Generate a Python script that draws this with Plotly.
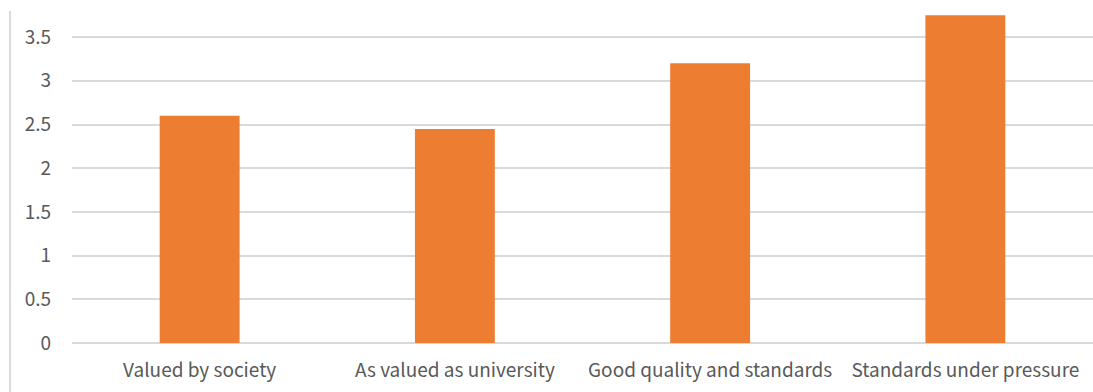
import plotly.graph_objects as go

categories = ["Valued by society", "As valued as university",
              "Good quality and standards", "Standards under pressure"]
values = [2.6, 2.45, 3.2, 3.75]
y_ticks = [0, 0.5, 1, 1.5, 2, 2.5, 3, 3.5]
y_tick_labels = ["0", "0.5", "1", "1.5", "2", "2.5", "3", "3.5"]

fig = go.Figure(
    go.Bar(
        x=categories,
        y=values,
        marker=dict(color="#ED7D31", line=dict(width=0)),
        width=0.313,
    )
)

font_family = "Noto Sans CJK KR, Noto Sans, sans-serif"

fig.update_layout(
    width=1093,
    height=392,
    margin=dict(l=72, r=0, t=0, b=49),
    paper_bgcolor="white",
    plot_bgcolor="white",
    showlegend=False,
    font=dict(family=font_family, size=19, color="#595959"),
    xaxis=dict(
        range=[-0.5, 3.5],
        showgrid=False,
        showline=False,
        zeroline=False,
        ticks="",
        tickfont=dict(size=19, color="#595959"),
        ticklabelstandoff=14,
    ),
    yaxis=dict(
        range=[0, 3.925],
        tickvals=y_ticks,
        ticktext=y_tick_labels,
        showgrid=True,
        gridcolor="#D9D9D9",
        gridwidth=1.5,
        zeroline=True,
        zerolinecolor="#D9D9D9",
        zerolinewidth=1.5,
        showline=False,
        ticks="",
        tickfont=dict(size=19, color="#595959"),
        ticklabelstandoff=20,
    ),
)

# light border of the chart area on the left
fig.add_shape(
    type="line",
    xref="paper", yref="paper",
    x0=-62 / 1021, x1=-62 / 1021,
    y0=(392 - 49 - 11) / 343, y1=-49 / 343,
    line=dict(color="#CFCFCF", width=1.5),
)

fig.write_html("out.html")
